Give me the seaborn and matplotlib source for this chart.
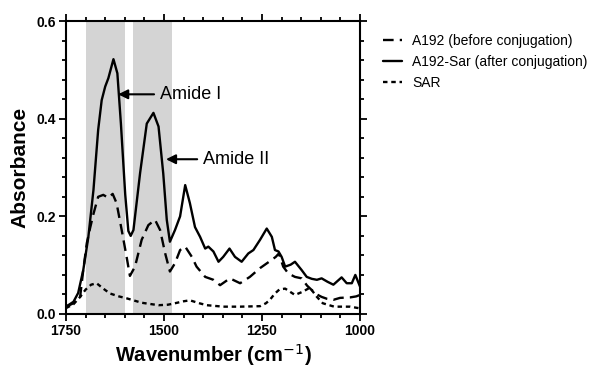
import numpy as np
import matplotlib
matplotlib.use('Agg')
import matplotlib.pyplot as plt
from matplotlib.ticker import MultipleLocator
import seaborn as sns
import pandas as pd

# A192-Sar (after conjugation), solid line
sar_conj_wn = [1750, 1731, 1719, 1706, 1693, 1680, 1668, 1659, 1650, 1642, 1629, 1619, 1610, 1599,
               1591, 1585, 1578, 1561, 1544, 1527, 1514, 1502, 1493, 1485, 1472, 1459, 1446, 1434,
               1421, 1408, 1395, 1387, 1374, 1361, 1349, 1333, 1319, 1302, 1285, 1272, 1255, 1238,
               1225, 1217, 1208, 1200, 1191, 1177, 1166, 1149, 1136, 1123, 1110, 1098, 1083, 1068,
               1047, 1034, 1021, 1012, 1000]
sar_conj_abs = [0.015, 0.025, 0.043, 0.090, 0.158, 0.254, 0.377, 0.438, 0.466, 0.483, 0.522, 0.493,
                0.390, 0.245, 0.170, 0.160, 0.172, 0.289, 0.390, 0.412, 0.384, 0.288, 0.193, 0.148,
                0.172, 0.200, 0.264, 0.227, 0.178, 0.158, 0.134, 0.138, 0.128, 0.107, 0.117, 0.134,
                0.117, 0.107, 0.124, 0.131, 0.152, 0.175, 0.158, 0.131, 0.128, 0.117, 0.097, 0.101,
                0.107, 0.090, 0.076, 0.072, 0.070, 0.073, 0.066, 0.060, 0.075, 0.063, 0.063, 0.080,
                0.056]

# A192 (before conjugation), dashed line
a192_wn = [1750, 1731, 1714, 1706, 1697, 1688, 1680, 1668, 1655, 1642, 1631, 1621, 1608, 1595,
           1587, 1574, 1557, 1540, 1523, 1510, 1497, 1485, 1472, 1459, 1446, 1429, 1417, 1395,
           1374, 1357, 1332, 1306, 1281, 1255, 1225, 1215, 1207, 1196, 1183, 1166, 1149, 1135,
           1123, 1110, 1098, 1084, 1068, 1051, 1025, 1010, 1000]
a192_abs = [0.015, 0.022, 0.035, 0.090, 0.145, 0.178, 0.205, 0.240, 0.244, 0.238, 0.246, 0.227,
            0.172, 0.115, 0.078, 0.097, 0.152, 0.182, 0.193, 0.172, 0.124, 0.087, 0.104, 0.131,
            0.138, 0.117, 0.097, 0.076, 0.070, 0.059, 0.073, 0.063, 0.076, 0.094, 0.111, 0.117,
            0.124, 0.097, 0.083, 0.076, 0.073, 0.058, 0.049, 0.040, 0.035, 0.031, 0.029, 0.033,
            0.034, 0.036, 0.039]

# SAR, dotted line
sar_wn = [1750, 1731, 1714, 1700, 1686, 1672, 1655, 1638, 1615, 1595, 1557, 1514, 1490, 1472,
          1450, 1434, 1410, 1391, 1349, 1306, 1255, 1240, 1230, 1217, 1206, 1191, 1166, 1145,
          1128, 1110, 1095, 1066, 1025, 1004]
sar_abs = [0.012, 0.020, 0.035, 0.050, 0.060, 0.063, 0.052, 0.042, 0.036, 0.032, 0.023, 0.018,
           0.019, 0.022, 0.026, 0.028, 0.022, 0.018, 0.015, 0.015, 0.016, 0.022, 0.029, 0.042,
           0.050, 0.052, 0.039, 0.046, 0.054, 0.035, 0.022, 0.015, 0.015, 0.012]

labels = ['A192 (before conjugation)', 'A192-Sar (after conjugation)', 'SAR']
bands = [(1700, 1600), (1580, 1480)]

sns.set_style('ticks')
plt.rcParams['font.family'] = ['Liberation Sans', 'DejaVu Sans']
plt.rcParams['text.color'] = 'black'
plt.rcParams['axes.labelcolor'] = 'black'
plt.rcParams['xtick.color'] = 'black'
plt.rcParams['ytick.color'] = 'black'
plt.rcParams['axes.edgecolor'] = 'black'

fig = plt.figure(figsize=(5.91, 3.70), dpi=100)
ax = fig.add_axes([0.1117, 0.1514, 0.4975, 0.7916])

for lo, hi in bands:
    ax.axvspan(hi, lo, color='#d4d4d4', lw=0, zorder=0)

df_a = pd.DataFrame({'wn': a192_wn, 'abs': a192_abs})
df_c = pd.DataFrame({'wn': sar_conj_wn, 'abs': sar_conj_abs})
df_s = pd.DataFrame({'wn': sar_wn, 'abs': sar_abs})

sns.lineplot(data=df_a, x='wn', y='abs', ax=ax, color='black', lw=1.7, sort=False,
             linestyle=(0, (4.5, 2.6)), label=labels[0])
sns.lineplot(data=df_c, x='wn', y='abs', ax=ax, color='black', lw=1.7, sort=False,
             label=labels[1])
sns.lineplot(data=df_s, x='wn', y='abs', ax=ax, color='black', lw=1.7, sort=False,
             linestyle=(0, (1.9, 1.6)), label=labels[2])

ax.set_xlim(1750, 1000)
ax.set_ylim(0, 0.6)
ax.xaxis.set_major_locator(MultipleLocator(250))
ax.xaxis.set_minor_locator(MultipleLocator(50))
ax.yaxis.set_major_locator(MultipleLocator(0.2))
ax.yaxis.set_minor_locator(MultipleLocator(0.04))
ax.yaxis.set_major_formatter(matplotlib.ticker.FormatStrFormatter('%.1f'))
ax.tick_params(which='both', direction='out', top=True, right=True, width=1.3,
               labelsize=10, pad=2)
ax.tick_params(which='major', length=5)
ax.tick_params(which='minor', length=3)
for lab in ax.get_xticklabels() + ax.get_yticklabels():
    lab.set_fontweight('bold')
for sp in ax.spines.values():
    sp.set_linewidth(1.5)

ax.set_xlabel('Wavenumber (cm$^{-1}$)', fontsize=14.5, fontweight='bold', labelpad=3)
ax.set_ylabel('Absorbance', fontsize=15, fontweight='bold', labelpad=5)

ax.annotate('Amide I', xy=(1617, 0.45), xytext=(1510, 0.45), fontsize=13, va='center',
            arrowprops=dict(arrowstyle='-|>', color='black', lw=1.5, shrinkA=2, shrinkB=0,
                            mutation_scale=14))
ax.annotate('Amide II', xy=(1495, 0.317), xytext=(1400, 0.317), fontsize=13, va='center',
            arrowprops=dict(arrowstyle='-|>', color='black', lw=1.5, shrinkA=2, shrinkB=0,
                            mutation_scale=14))

ax.legend(loc='upper left', bbox_to_anchor=(0.648, 0.908), bbox_transform=fig.transFigure,
          frameon=False, fontsize=10, handlelength=1.4, handletextpad=0.7, labelspacing=0.5,
          borderaxespad=0, borderpad=0)

fig.savefig('out.png', dpi=100)
